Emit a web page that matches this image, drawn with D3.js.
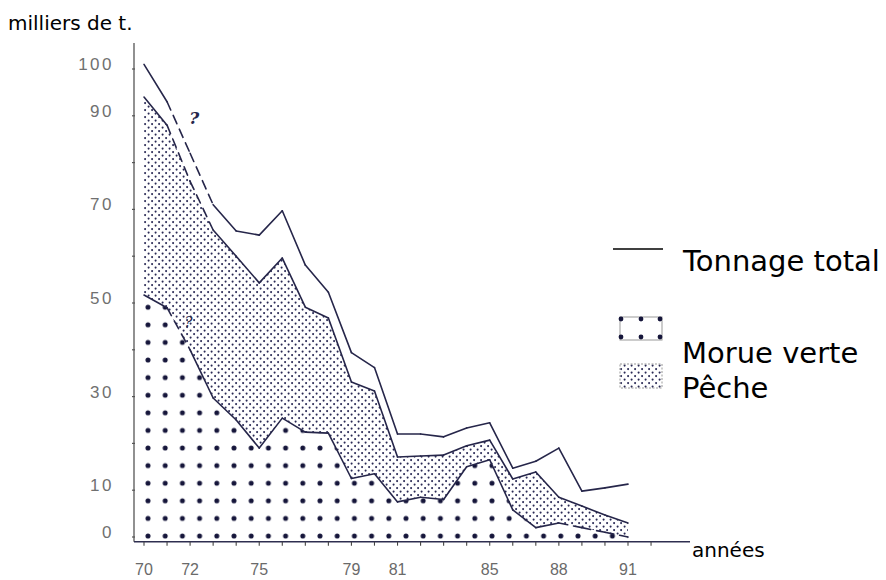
<!DOCTYPE html>
<html><head><meta charset="utf-8">
<script src="https://cdn.jsdelivr.net/npm/d3@7"></script>
<style>
body{margin:0;background:#fff;}
svg{display:block;}
</style></head>
<body>
<svg id="chart" width="886" height="580"></svg>
<script>
// ---- data (milliers de tonnes) ----
const years   = [70,71,72,73,74,75,76,77,78,79,80,81,82,83,84,85,86,87,88,89,90,91];
const total   = [101,93,82,71,65.4,64.5,69.7,58.1,52.3,39.4,36.2,22,22,21.4,23.3,24.4,14.7,16.2,19,9.8,10.5,11.3];
const morue   = [51.7,49,40,29.7,25,19,25.4,22.4,22.2,12.5,13.5,7.5,8.5,8,15,16.5,5.8,2,3,2,1,0];
const peche   = [42.3,39,36,35.9,35,35.3,34.2,26.7,24.6,20.6,17.7,9.6,8.8,9.5,4.5,4.2,6.6,11.9,5.5,4.6,3.7,3];
const yTickValues  = [0,10,20,30,40,50,60,70,80,90,100];
const yLabelValues = [100,90,70,50,30,10,0];
const xLabelYears  = [70,72,75,79,81,85,88,91];
const dashedTotal  = [71,72];   // segments starting at these years are dashed (uncertain)
const dashedPeche  = [71,72];
const dashedMorue  = [71,88,89,90];

const svg = d3.select("#chart");
const ink = "#26264a";

const x = d3.scaleLinear().domain([70,91]).range([144,628]);
const y = d3.scaleLinear().domain([0,100]).range([537,69]);
const axisY = y(-1);
const axisX = 134;

// ---- patterns ----
const defs = svg.append("defs");
const big = defs.append("pattern").attr("id","bigdots").attr("patternUnits","userSpaceOnUse")
  .attr("width",17.2).attr("height",17.6).attr("x",148-8.6).attr("y",536-8.8);
big.append("circle").attr("cx",8.6).attr("cy",8.8).attr("r",2.5).attr("fill","#15153a");
const fine = defs.append("pattern").attr("id","finedots").attr("patternUnits","userSpaceOnUse")
  .attr("width",7).attr("height",7);
fine.append("circle").attr("cx",1.6).attr("cy",1.6).attr("r",1.05).attr("fill","#2a2a55");
fine.append("circle").attr("cx",5.1).attr("cy",5.1).attr("r",1.05).attr("fill","#2a2a55");

// ---- stacked data ----
const rows = years.map((yr,i)=>({year:yr, morue:morue[i], peche:peche[i], total:total[i]}));
const stack = d3.stack().keys(["morue","peche"])(rows);

const areaMorue = d3.area().x(d=>x(d.data.year)).y0(axisY).y1(d=>y(d[1]));
const areaPeche = d3.area().x(d=>x(d.data.year)).y0(d=>y(d[0])).y1(d=>y(d[1]));
svg.append("path").datum(stack[0]).attr("d",areaMorue).attr("fill","url(#bigdots)");
svg.append("path").datum(stack[1]).attr("d",areaPeche).attr("fill","url(#finedots)");

// ---- lines, segment by segment (dashed where uncertain) ----
function drawLine(vals, dashedList){
  for(let i=0;i<years.length-1;i++){
    const seg=[[years[i],vals[i]],[years[i+1],vals[i+1]]];
    svg.append("path")
      .attr("d", d3.line().x(d=>x(d[0])).y(d=>y(d[1]))(seg))
      .attr("fill","none").attr("stroke",ink).attr("stroke-width",1.6)
      .attr("stroke-linecap","round")
      .attr("stroke-dasharray", dashedList.includes(years[i]) ? "9,6" : null);
  }
}
drawLine(total, dashedTotal);
drawLine(stack[1].map(d=>d[1]), dashedPeche);
drawLine(stack[0].map(d=>d[1]), dashedMorue);

// question marks
svg.append("text").attr("x",x(71.1)+20).attr("y",y(90)+8).text("?")
  .attr("font-family","DejaVu Serif").attr("font-weight","bold").attr("font-style","italic")
  .attr("font-size",17).attr("fill",ink);
svg.append("text").attr("x",x(71.5)+6).attr("y",y(46)+5).text("?")
  .attr("font-family","DejaVu Serif").attr("font-style","italic")
  .attr("font-size",15).attr("fill",ink);

// ---- axes ----
svg.append("line").attr("x1",axisX).attr("x2",axisX).attr("y1",43).attr("y2",axisY)
  .attr("stroke","#555").attr("stroke-width",1.3);
svg.append("line").attr("x1",axisX).attr("x2",690).attr("y1",axisY).attr("y2",axisY)
  .attr("stroke","#2e2e50").attr("stroke-width",1.6);

svg.selectAll(".yt").data(yTickValues).enter().append("line")
  .attr("x1",axisX-2).attr("x2",axisX+1).attr("y1",d=>y(d)).attr("y2",d=>y(d))
  .attr("stroke","#555").attr("stroke-width",1.2);
svg.selectAll(".xt").data(d3.range(70,93)).enter().append("line")
  .attr("x1",d=>x(d)).attr("x2",d=>x(d)).attr("y1",axisY).attr("y2",axisY+4)
  .attr("stroke","#444").attr("stroke-width",1.1);

const labelFont = "Liberation Sans, Arial, sans-serif";
svg.selectAll(".yl").data(yLabelValues).enter().append("text")
  .attr("x",114).attr("y",d=>y(d)+1).attr("text-anchor","end")
  .attr("font-family",labelFont).attr("font-size",17).attr("letter-spacing",2.5)
  .attr("fill","#707070").text(d=>d);
svg.selectAll(".xl").data(xLabelYears).enter().append("text")
  .attr("x",d=>x(d)).attr("y",575).attr("text-anchor","middle")
  .attr("font-family",labelFont).attr("font-size",16)
  .attr("fill","#6a6a6a").text(d=>d);

// ---- titles ----
const handFont = "'Comic Sans MS', 'DejaVu Sans', sans-serif";
svg.append("text").attr("x",8).attr("y",30).text("milliers de t.")
  .attr("font-family",handFont).attr("font-size",20).attr("fill","#000");
svg.append("text").attr("x",692).attr("y",557).text("années")
  .attr("font-family",handFont).attr("font-size",20).attr("fill","#000");

// ---- legend ----
svg.append("line").attr("x1",613).attr("x2",663).attr("y1",249).attr("y2",249)
  .attr("stroke","#000").attr("stroke-width",1.6);
svg.append("text").attr("x",683).attr("y",271).text("Tonnage total")
  .attr("font-family",handFont).attr("font-size",29).attr("fill","#000");

svg.append("rect").attr("x",620).attr("y",317).attr("width",42).attr("height",23)
  .attr("fill","#fff").attr("stroke","#999").attr("stroke-width",1);
const lgDots = [[621,319],[641,319],[660,319],[621,337],[641,337],[660,337]];
svg.selectAll(".lgd").data(lgDots).enter().append("circle")
  .attr("cx",d=>d[0]).attr("cy",d=>d[1]).attr("r",2.4).attr("fill","#15153a");
svg.append("text").attr("x",682).attr("y",363).text("Morue verte")
  .attr("font-family",handFont).attr("font-size",29).attr("fill","#000");

svg.append("rect").attr("x",620).attr("y",364).attr("width",42).attr("height",24)
  .attr("fill","url(#finedots)").attr("stroke","#999").attr("stroke-width",1)
  .attr("stroke-dasharray","2,1.5");
svg.append("text").attr("x",682).attr("y",398).text("Pêche")
  .attr("font-family",handFont).attr("font-size",29).attr("fill","#000");
</script>
</body></html>
